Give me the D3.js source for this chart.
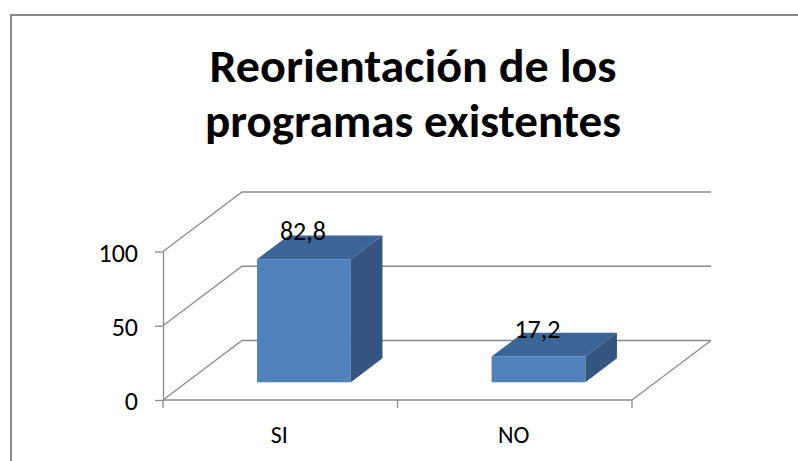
<!DOCTYPE html>
<html>
<head>
<meta charset="utf-8">
<script src="https://cdn.jsdelivr.net/npm/d3@7"></script>
<style>
  body { margin: 0; background: #fff; }
  text { font-family: Carlito, Calibri, Lato, sans-serif; fill: #000; }
</style>
</head>
<body>
<script>
const categories = ["SI", "NO"]
const values = [82.8, 17.2]
const valueLabels = ["82,8", "17,2"]
const yTicks = [0, 50, 100]
const titleLines = ["Reorientación de los", "programas existentes"]

const W = 798, H = 461
// offset of the back wall relative to the front plane
const depth = { dx: 79, dy: -59.5 }
const barDepth = [0.3, 0.7]   // bar sits in the middle of the floor
const barSpan = [0.3, 0.7]    // part of each category band
const gridColor = "#8c8c8c"

const svg = d3.select("body").append("svg")
  .attr("width", W)
  .attr("height", H)

// outer chart border (runs past the right and bottom edge)
svg.append("rect")
  .attr("x", 11).attr("y", 15)
  .attr("width", 820).attr("height", 500)
  .attr("fill", "none")
  .attr("stroke", "#898989")
  .attr("stroke-width", 2)

// title
const titleTargets = [407, 416]
svg.selectAll(".title")
  .data(titleLines)
  .join("text")
  .attr("class", "title")
  .attr("x", 413)
  .attr("y", (d, i) => 82 + i * 55)
  .attr("text-anchor", "middle")
  .attr("font-size", 47)
  .attr("font-weight", "bold")
  .attr("textLength", (d, i) => titleTargets[i])
  .attr("lengthAdjust", "spacingAndGlyphs")
  .text(d => d)

const x = d3.scaleBand().domain(categories).range([163, 632])
const y = d3.scaleLinear().domain([0, 100]).range([400, 251.5])
const x0 = x.range()[0], x1 = x.range()[1]

const proj = (px, v, z) => [px + z * depth.dx, y(v) + z * depth.dy]

// walls: gridlines on the side wall and back wall
const grid = svg.append("g")
  .attr("fill", "none")
  .attr("stroke", gridColor)
  .attr("stroke-width", 1.3)
grid.selectAll("path.grid")
  .data(yTicks)
  .join("path")
  .attr("class", "grid")
  .attr("d", t => d3.line()([proj(x0, t, 0), proj(x0, t, 1), proj(x1, t, 1)]))
// floor right edge
grid.append("path")
  .attr("d", d3.line()([proj(x1, 0, 0), proj(x1, 0, 1)]))

// bars
const bw = x.bandwidth()
const bars = svg.selectAll(".bar")
  .data(categories.map((c, i) => ({ c, v: values[i], label: valueLabels[i] })))
  .join("g")
  .attr("class", "bar")

bars.each(function (d) {
  const g = d3.select(this)
  const a = x(d.c) + barSpan[0] * bw
  const b = x(d.c) + barSpan[1] * bw
  const [z0, z1] = barDepth
  const poly = pts => d3.line()(pts) + "Z"
  g.append("path")
    .attr("fill", "#4f81bd")
    .attr("d", poly([proj(a, 0, z0), proj(b, 0, z0), proj(b, d.v, z0), proj(a, d.v, z0)]))
  g.append("path")
    .attr("fill", "#3c6496")
    .attr("d", poly([proj(a, d.v, z0), proj(b, d.v, z0), proj(b, d.v, z1), proj(a, d.v, z1)]))
  g.append("path")
    .attr("fill", "#33557f")
    .attr("d", poly([proj(b, 0, z0), proj(b, 0, z1), proj(b, d.v, z1), proj(b, d.v, z0)]))
  const top = proj((a + b) / 2, d.v, z0)
  g.append("text")
    .attr("x", top[0] - 1)
    .attr("y", top[1] - 19)
    .attr("text-anchor", "middle")
    .attr("font-size", 26)
    .text(d.label)
})

// value axis on the front left edge
const yAxis = svg.append("g")
  .attr("transform", `translate(${x0},0)`)
  .call(d3.axisLeft(y).tickValues(yTicks).tickSize(8).tickSizeOuter(0).tickPadding(17))
yAxis.select(".domain").attr("stroke", gridColor).attr("stroke-width", 1.3)
yAxis.selectAll(".tick line").attr("stroke", gridColor).attr("stroke-width", 1.3)
yAxis.selectAll(".tick text")
  .attr("font-size", 26)
  .attr("dy", "0.38em")
  .attr("fill", "#000")

// category axis on the front floor edge
const xAxis = svg.append("g").attr("stroke", gridColor).attr("stroke-width", 1.3)
xAxis.append("path").attr("d", d3.line()([proj(x0, 0, 0), proj(x1, 0, 0)]))
xAxis.selectAll("line")
  .data([x0, ...categories.map(c => x(c) + bw)])
  .join("line")
  .attr("x1", d => d).attr("x2", d => d)
  .attr("y1", y(0)).attr("y2", y(0) + 8)
svg.selectAll(".xlabel")
  .data(categories)
  .join("text")
  .attr("class", "xlabel")
  .attr("x", c => x(c) + bw / 2 - 1)
  .attr("y", 443)
  .attr("text-anchor", "middle")
  .attr("font-size", 24)
  .text(c => c)
</script>
</body>
</html>
